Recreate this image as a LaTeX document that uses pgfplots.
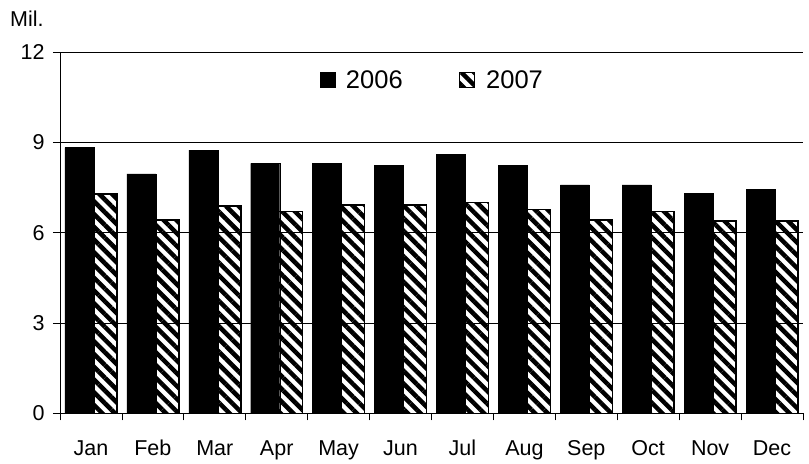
\documentclass[border=0pt]{standalone}
\usepackage{fontspec}
\setmainfont{Liberation Sans}
\usepackage{pgfplots}
\usepackage{pgfplotstable}
\pgfplotsset{compat=1.18}
\usetikzlibrary{patterns.meta}

% monthly values, millions
\pgfplotstableread{
x  y2006 y2007
0  8.83  7.29
1  7.96  6.42
2  8.75  6.89
3  8.31  6.71
4  8.31  6.92
5  8.24  6.92
6  8.61  7.00
7  8.24  6.78
8  7.59  6.42
9  7.59  6.70
10 7.31  6.40
11 7.45  6.40
}\sales

\begin{document}
\begin{tikzpicture}
\begin{axis}[
    name=ax,
    scale only axis,
    width=743pt, height=361pt,
    ybar=-6pt, bar width=29pt,
    xmin=-0.5, xmax=11.5,
    ymin=0, ymax=12,
    axis x line*=bottom, axis y line*=left,
    axis line style={line width=0.8pt},
    ytick={0,3,6,9,12},
    ymajorgrids, grid style={black, line width=0.8pt},
    tick align=outside,
    tick style={black, line width=0.8pt},
    major tick length=7pt,
    xtick={-0.5,0.5,...,11.5},
    xticklabel=\empty,
    extra x ticks={0,...,11},
    extra x tick labels={Jan,Feb,Mar,Apr,May,Jun,Jul,Aug,Sep,Oct,Nov,Dec},
    extra x tick style={major tick length=0pt,
        xticklabel style={anchor=base, yshift=-42.7pt}},
    ticklabel style={font=\fontsize{21.5}{26}\selectfont},
    yticklabel style={xshift=-5pt},
    /pgf/number format/assume math mode=true,
    legend columns=2,
    legend style={draw=none, fill=none, at={(0.501,0.923)}, anchor=center,
        font=\fontsize{25.5}{30}\selectfont,
        /tikz/every odd column/.append style={column sep=9pt},
        /tikz/every even column/.append style={column sep=54pt}},
    legend image code/.code={\draw[#1] (0pt,-7.5pt) rectangle (15pt,7.5pt);},
    clip=false,
]
\addplot[fill=black, draw=black] table[x=x, y=y2006] {\sales};
\addplot[fill=white, draw=black, line width=1.5pt,
    pattern={Lines[angle=-45, distance=9pt, line width=4.5pt]}, pattern color=black]
    table[x=x, y=y2007] {\sales};
\legend{2006,2007}
\end{axis}
\node[anchor=base west, inner sep=0pt, font=\fontsize{21.5}{26}\selectfont]
    at ([xshift=-50pt, yshift=25.8pt]ax.north west) {Mil.};
\path ([shift={(-60pt,-46.7pt)}]ax.south west) rectangle ([shift={(6pt,52.3pt)}]ax.north east);
\end{tikzpicture}
\end{document}
